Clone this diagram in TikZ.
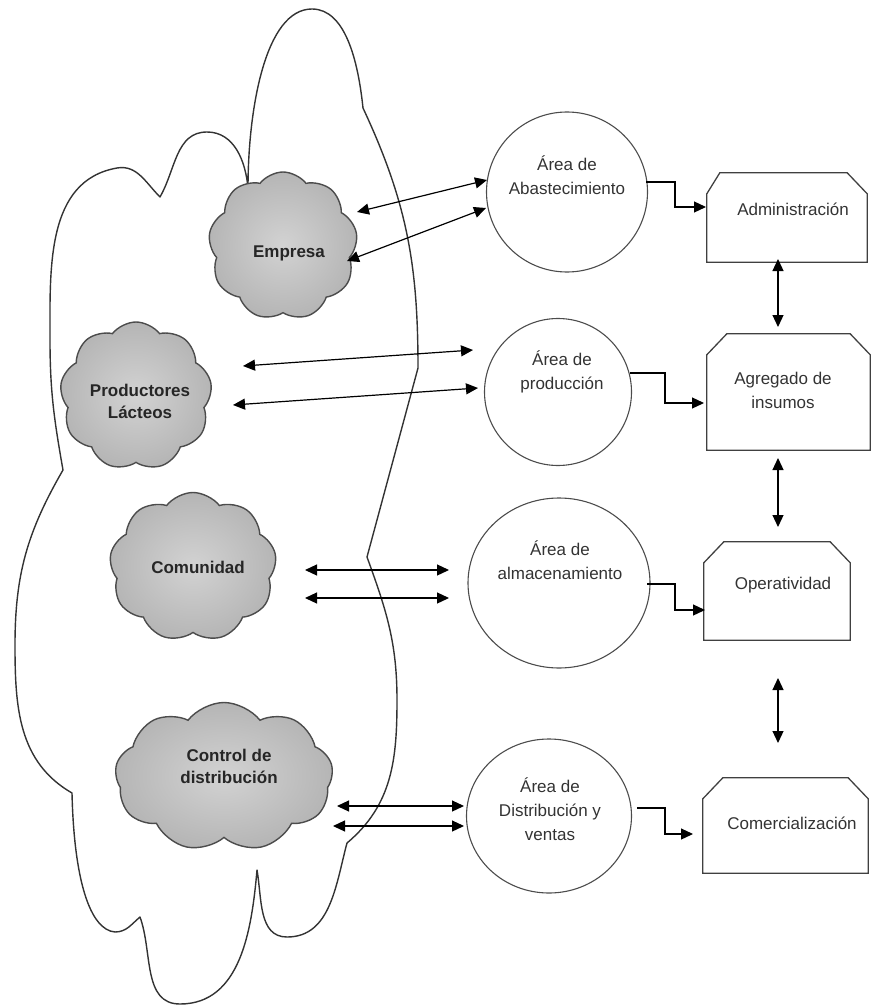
\documentclass[tikz,border=0pt]{standalone}
\usepackage{fontspec}
\setmainfont{Liberation Sans}
\usetikzlibrary{shapes.geometric,shapes.symbols,arrows.meta,calc}
\newcommand{\chbox}[3]{% node, left chamfer x, right chamfer x
  \draw[boxline] (#1.south west) -- ([yshift=-21pt]#1.north west) -- ([xshift=#2pt]#1.north west)
    -- ([xshift=-#3pt]#1.north east) -- ([yshift=-21pt]#1.north east) -- (#1.south east) -- cycle;}
\begin{document}
\begin{tikzpicture}[x=1pt,y=-1pt,
  outline/.style={draw=black!80, line width=1.4pt, line join=round},
  puff/.style={cloud, cloud puffs=9, cloud puff arc=105, cloud ignores aspect, draw=black!70, line width=1.4pt, inner color=gray!35, outer color=gray!58},
  ctext/.style={font=\fontsize{17}{22}\selectfont\bfseries, text=black!85, align=center},
  area/.style={ellipse, draw=black!70, line width=1.1pt, inner sep=0pt},
  atext/.style={font=\fontsize{17}{24}\selectfont, text=black!80, align=center},
  boxn/.style={rectangle, inner sep=0pt},
  boxline/.style={draw=black!75, line width=1.3pt},
  dbl/.style={{Triangle[length=12pt,width=11pt]}-{Triangle[length=12pt,width=11pt]}, line width=1.2pt, black},
  elb/.style={-{Triangle[length=12pt,width=11pt]}, line width=1.2pt, black},
]
\useasboundingbox (0,0) rectangle (871,1008);

% big outline
\draw[outline] (248,188) .. controls (248,110) and (265,9) .. (312,9)
  .. controls (345,9) and (358,60) .. (363,108)
  to[out=-65,in=90] (418,368) -- (367,557)
  to[out=-70,in=90] (397,700) to[out=-90,in=40] (347,843)
  to[out=-105,in=0] (287,937) to[out=180,in=-80] (257,870)
  to[out=-95,in=0] (180,1004) to[out=180,in=-70] (140,917)
  to[out=-140,in=0] (115,932) .. controls (90,930) and (74,880) .. (72,793)
  to[out=150,in=-90] (15,645) to[out=90,in=-120] (63,470)
  to[out=100,in=-90] (50,340) to[out=90,in=190] (117,168) to[out=10,in=135] (160,197)
  to[out=60,in=180] (207,132) to[out=0,in=95] (248,188) -- cycle;

% gray clouds
\node[puff, minimum width=149pt, minimum height=148pt] (k1) at (283,246) {};
\node[puff, minimum width=152pt, minimum height=148pt] (k2) at (136,396) {};
\node[puff, minimum width=167pt, minimum height=149pt] (k3) at (193,567) {};
\node[puff, minimum width=218pt, minimum height=149pt] (k4) at (224,777) {};
\node[ctext] (t1) at (289,253) {Empresa};
\node[ctext] (t2) at (140,401) {Productores\\Lácteos};
\node[ctext] (t3) at (198,567) {Comunidad};
\node[ctext] (t4) at (229,766) {Control de\\distribución};

% areas
\node[area, minimum width=161pt, minimum height=160pt] (c1) at (567,192) {};
\node[area, minimum width=147pt, minimum height=147pt] (c2) at (558,392) {};
\node[area, minimum width=182pt, minimum height=170pt] (c3) at (559,583) {};
\node[area, minimum width=165pt, minimum height=154pt] (c4) at (549,816) {};
\node[atext] (a1) at (567,175) {Área de\\Abastecimiento};
\node[atext] (a2) at (562,372) {Área de\\producción};
\node[atext] (a3) at (560,560) {Área de\\almacenamiento};
\node[atext] (a4) at (550,809) {Área de\\Distribución y\\ventas};

% boxes
\node[boxn, minimum width=160pt, minimum height=89pt] (b1) at (787,217.5) {};
\node[boxn, minimum width=163pt, minimum height=116pt] (b2) at (788.5,392) {};
\node[boxn, minimum width=146pt, minimum height=98pt] (b3) at (777,591) {};
\node[boxn, minimum width=165pt, minimum height=95pt] (b4) at (785.5,825.5) {};
\chbox{b1}{13}{20}
\chbox{b2}{20}{20}
\chbox{b3}{20}{20}
\chbox{b4}{20}{20}
\node[atext] (x1) at (793,209) {Administración};
\node[atext] (x2) at (783,390) {Agregado de\\insumos};
\node[atext] (x3) at (783,585) {Operatividad};
\node[atext] (x4) at (792,823) {Comercialización};

% cloud <-> area arrows
\coordinate (p1a) at (357,212); \coordinate (q1a) at (487,180);
\coordinate (p1b) at (347,261); \coordinate (q1b) at (486,208);
\coordinate (p2a) at (243,366); \coordinate (q2a) at (473,350);
\coordinate (p2b) at (233,405); \coordinate (q2b) at (478,388);
\coordinate (p3a) at (305,570); \coordinate (q3a) at (449,570);
\coordinate (p3b) at (305,598); \coordinate (q3b) at (449,598);
\coordinate (p4a) at (337,806); \coordinate (q4a) at (464,806);
\coordinate (p4b) at (333,826); \coordinate (q4b) at (464,826);
\draw[dbl] (p1a) -- (q1a);
\draw[dbl] (p1b) -- (q1b);
\draw[dbl] (p2a) -- (q2a);
\draw[dbl] (p2b) -- (q2b);
\draw[dbl] (p3a) -- (q3a);
\draw[dbl] (p3b) -- (q3b);
\draw[dbl] (p4a) -- (q4a);
\draw[dbl] (p4b) -- (q4b);

% elbow arrows area -> box
\coordinate (e1a) at (646,182); \coordinate (e1k) at (675,207); \coordinate (e1b) at (706,207);
\coordinate (e2a) at (630,373); \coordinate (e2k) at (665,403); \coordinate (e2b) at (704,403);
\coordinate (e3a) at (647,584); \coordinate (e3k) at (675,610); \coordinate (e3b) at (705,610);
\coordinate (e4a) at (637,808); \coordinate (e4k) at (665,834); \coordinate (e4b) at (693,834);
\draw[elb] (e1a) -| (e1k) -- (e1b);
\draw[elb] (e2a) -| (e2k) -- (e2b);
\draw[elb] (e3a) -| (e3k) -- (e3b);
\draw[elb] (e4a) -| (e4k) -- (e4b);

% vertical arrows between boxes
\coordinate (v1a) at (778,259); \coordinate (v1b) at (778,327);
\coordinate (v2a) at (778,458); \coordinate (v2b) at (778,527);
\coordinate (v3a) at (778,678); \coordinate (v3b) at (778,743);
\draw[dbl] (v1a) -- (v1b);
\draw[dbl] (v2a) -- (v2b);
\draw[dbl] (v3a) -- (v3b);
\end{tikzpicture}
\end{document}
